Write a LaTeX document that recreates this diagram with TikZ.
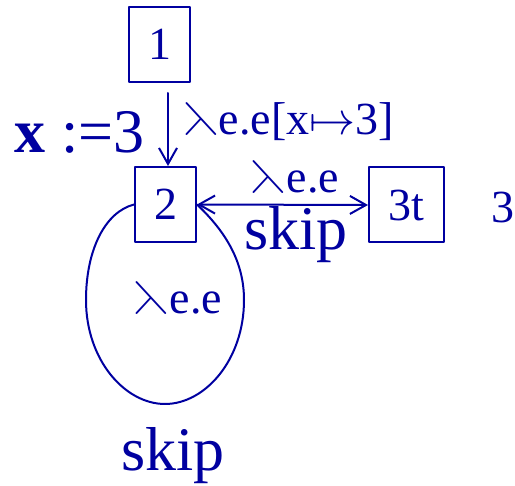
\RequirePackage{fix-cm}
\documentclass[tikz,border=0pt]{standalone}
\usepackage{amssymb}
\usepackage{fontspec}
\setmainfont{Liberation Serif}
\usetikzlibrary{arrows.meta}
\DeclareFontFamily{U}{msa}{}
\DeclareFontShape{U}{msa}{m}{n}{<-> msam10}{}

\definecolor{ink}{RGB}{0,0,160}
\newcommand{\lam}{$\leftthreetimes$}

\begin{document}
\begin{tikzpicture}[x=1pt, y=-1pt, >={Straight Barb[length=16pt,width=18pt]},
  line width=2pt, ink, line cap=round, line join=round,
  box/.style={draw, minimum width=61pt, minimum height=75pt, inner sep=0pt,
    font=\fontsize{46}{50}\selectfont},
  lbl/.style={inner sep=0pt, font=\fontsize{46}{50}\selectfont},
  big/.style={inner sep=0pt, font=\fontsize{62}{66}\selectfont}]

  \useasboundingbox (0,0) rectangle (515,486);

  %% ---- blocks ----
  \node[box] (n1) at (159.5,44.5) {1};
  \node[box] (n2) at (165.5,204.5) {2};
  \node[box, minimum width=75pt] (n3) at (406.5,205) {3t};
  \node[lbl] (v3) at (503,207) {3};

  %% ---- 1 -> 2 ----
  \draw[->, shorten <=10pt] ([xshift=2.5pt]n2.north |- n1.south) -- ([xshift=2.5pt]n2.north);
  \node[big] (asg) at (79.5,132.5) {\textbf{x} :=3};
  \node[lbl, anchor=west] (l12) at (182,121.5) {\lam e.e[x$\mapsto$3]};

  %% ---- 2 <-> 3t ----
  \draw[<->] (n2.east) -- (n3.west);
  \node[lbl] (l23) at (295,177) {\lam e.e};
  \node[big] (s23) at (296,235) {skip};

  %% ---- self loop on 2 ----
  \draw (n2.west) .. controls (105,212) and (86,250) .. (86,300)
    .. controls (86,360) and (125,404) .. (165,404)
    .. controls (205,404) and (244,360) .. (244,300)
    .. controls (244,262) and (226,232) .. (n2.east);
  \node[lbl] (l22) at (178,298) {\lam e.e};
  \node[big] (s22) at (173,456) {skip};

\end{tikzpicture}
\end{document}
